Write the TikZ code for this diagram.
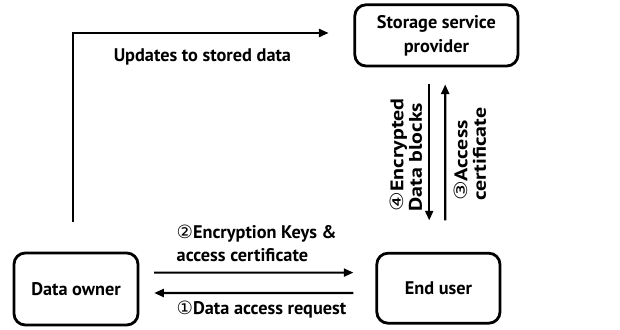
\documentclass[tikz,border=0pt]{standalone}
\usepackage{fontspec}
\setmainfont{PT Sans}
\newfontfamily\circfont{DejaVu Sans}
\usetikzlibrary{calc,positioning,arrows.meta}
\newcommand{\stepno}[1]{{\circfont\mdseries #1}}
\tikzset{
    party/.style={draw, rounded corners=8pt, line width=2pt,
                  font=\bfseries\fontsize{13}{17}\selectfont,
                  align=center, minimum width=3.1cm, minimum height=1.8cm,
                  inner sep=2pt},
    flow/.style={-{Triangle[length=2.4mm,width=2mm]}, line width=1.5pt},
    flowlbl/.style={font=\bfseries\fontsize{13}{16.5}\selectfont,
                    inner sep=1pt, align=left},
    sidelbl/.style={font=\bfseries\fontsize{13}{13}\selectfont,
                    inner sep=1pt, align=left, rotate=90, xscale=1.2},
}

\begin{document}
\begin{tikzpicture}[x=1cm,y=1cm]
  \useasboundingbox (0,0) rectangle (15.5,8.225);

  % the three parties
  \node[party, minimum width=4.08cm, minimum height=1.53cm] (ssp) at (10.91,7.34)
       {Storage service\\provider};
  \node[party] (owner) at (1.9,1.0) {Data owner};
  \node[party, minimum width=3.08cm, minimum height=1.75cm] (enduser) at (10.96,1.02)
       {End user};

  % owner -> provider (updates)
  \draw[flow] ($(owner.north)+(-0.07,0.75)$) |- ($(ssp.west)+(-0.62,0.06)$);
  \node[flowlbl] (updlbl) at (5.06,6.8) {Updates to stored data};

  % owner <-> end user
  \draw[flow] ($(owner.east)+(0.37,0.41)$) -- ($(enduser.west)+(-0.55,0.39)$);
  \draw[flow] ($(enduser.west)+(-0.55,-0.12)$) -- ($(owner.east)+(0.37,-0.1)$);
  \node[flowlbl, anchor=west] (keylbl) at (4.375,2.14)
       {\stepno{②}Encryption Keys \&\\access certificate};
  \node[flowlbl, anchor=west] (reqlbl) at (4.375,0.475)
       {\stepno{①}Data access request};

  % end user <-> provider
  \draw[flow] ($(ssp.south)+(-0.18,-0.425)$) -- ($(enduser.north)+(-0.23,0.785)$);
  \draw[flow] ($(enduser.north)+(0.17,0.785)$) -- ($(ssp.south)+(0.22,-0.425)$);
  \node[sidelbl] (blklbl) at (10.15,4.35)
       {\stepno{④}Encrypted\\Data blocks};
  \node[sidelbl] (certlbl) at (11.75,4.37)
       {\stepno{③}Access\\certificate};
\end{tikzpicture}
\end{document}
